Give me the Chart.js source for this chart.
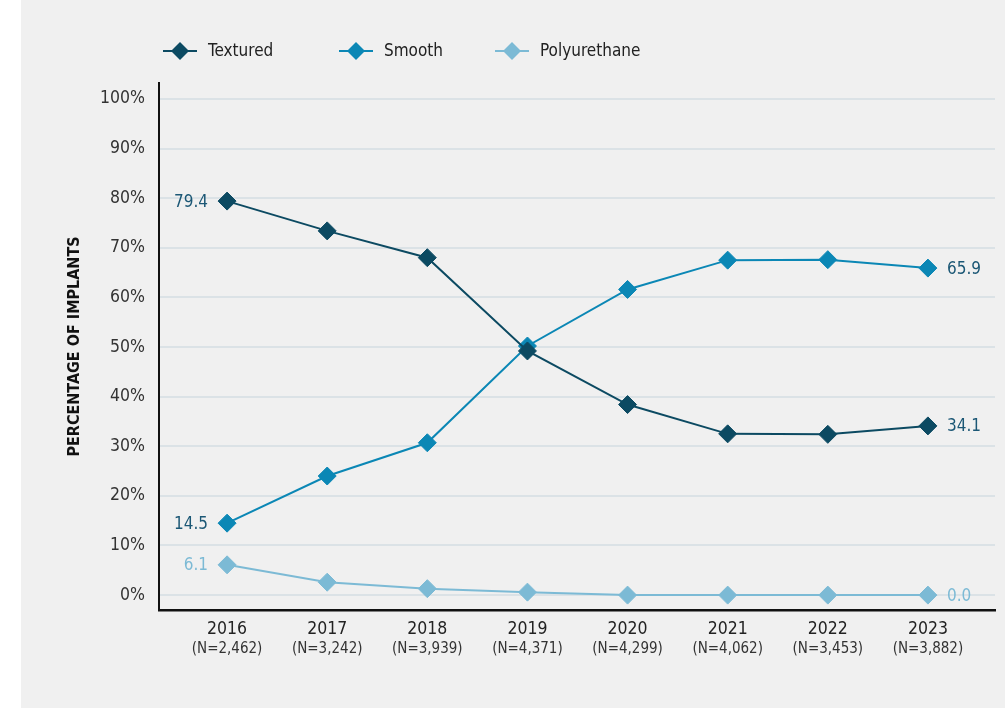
<!DOCTYPE html>
<html>
<head>
<meta charset="utf-8">
<script src="https://cdn.jsdelivr.net/npm/chart.js@4"></script>
<style>
  html, body { margin: 0; padding: 0; background: #ffffff; }
  #panel { position: absolute; left: 21px; top: 0; width: 984px; height: 708px; background: #f0f0f0; }
  #wrap { position: absolute; left: 0; top: 0; width: 1005px; height: 708px; }
</style>
</head>
<body>
<div id="panel"></div>
<div id="wrap"><canvas id="implantChart" width="1005" height="708"></canvas></div>
<script>
const years = [2016, 2017, 2018, 2019, 2020, 2021, 2022, 2023];
const sampleSizes = ['2,462', '3,242', '3,939', '4,371', '4,299', '4,062', '3,453', '3,882'];
const textured = [79.4, 73.4, 68.0, 49.2, 38.4, 32.5, 32.4, 34.1];
const smooth = [14.5, 24.0, 30.7, 50.2, 61.6, 67.5, 67.6, 65.9];
const polyurethane = [6.1, 2.6, 1.3, 0.6, 0.0, 0.0, 0.0, 0.0];
const yTicks = [0, 10, 20, 30, 40, 50, 60, 70, 80, 90, 100];

const FONT = '"DejaVu Sans Condensed", "Liberation Sans Narrow", sans-serif';
const C_TEXTURED = '#0c4a62';
const C_SMOOTH = '#0b87b5';
const C_POLY = '#7cbad5';
const C_LABEL_DARK = '#1b5775';

const series = [
  { name: 'Textured', values: textured, color: C_TEXTURED, labelColor: C_LABEL_DARK },
  { name: 'Smooth', values: smooth, color: C_SMOOTH, labelColor: C_LABEL_DARK },
  { name: 'Polyurethane', values: polyurethane, color: C_POLY, labelColor: C_POLY }
];

function diamond(ctx, x, y, r) {
  ctx.beginPath();
  ctx.moveTo(x, y - r);
  ctx.lineTo(x + r, y);
  ctx.lineTo(x, y + r);
  ctx.lineTo(x - r, y);
  ctx.closePath();
  ctx.fill();
}

// legend row: line with diamond, then series name
const legendRow = {
  id: 'legendRow',
  afterDraw(chart) {
    const ctx = chart.ctx;
    const centers = [180, 356, 512];
    ctx.save();
    ctx.font = '17px ' + FONT;
    ctx.textBaseline = 'middle';
    ctx.textAlign = 'left';
    chart.data.datasets.forEach((ds, i) => {
      const cx = centers[i], cy = 51;
      ctx.strokeStyle = ds.borderColor;
      ctx.lineWidth = 2;
      ctx.beginPath();
      ctx.moveTo(cx - 17, cy);
      ctx.lineTo(cx + 17, cy);
      ctx.stroke();
      ctx.fillStyle = ds.borderColor;
      diamond(ctx, cx, cy, 9);
      ctx.fillStyle = '#222222';
      ctx.fillText(ds.label, cx + 28, cy + 1);
    });
    ctx.restore();
  }
};

// first and last values of each series
const endLabels = {
  id: 'endLabels',
  afterDatasetsDraw(chart) {
    const ctx = chart.ctx;
    ctx.save();
    ctx.font = '17px ' + FONT;
    ctx.textBaseline = 'middle';
    chart.data.datasets.forEach((ds, i) => {
      const meta = chart.getDatasetMeta(i);
      const first = meta.data[0];
      const last = meta.data[meta.data.length - 1];
      const vals = series[i].values;
      ctx.fillStyle = series[i].labelColor;
      ctx.textAlign = 'right';
      ctx.fillText(vals[0].toFixed(1), first.x - 19, first.y + 1);
      ctx.textAlign = 'left';
      ctx.fillText(vals[vals.length - 1].toFixed(1), last.x + 19, last.y + 1);
    });
    ctx.restore();
  }
};

// sample size under each year
const sampleRow = {
  id: 'sampleRow',
  afterDraw(chart) {
    const ctx = chart.ctx;
    const xs = chart.scales.x;
    ctx.save();
    ctx.font = '15px ' + FONT;
    ctx.fillStyle = '#333333';
    ctx.textAlign = 'center';
    ctx.textBaseline = 'middle';
    years.forEach((yr, i) => {
      ctx.fillText('(N=' + sampleSizes[i] + ')', xs.getPixelForValue(yr), 649);
    });
    ctx.restore();
  }
};

new Chart(document.getElementById('implantChart'), {
  type: 'line',
  data: {
    datasets: series.map(s => ({
      label: s.name,
      data: years.map((yr, i) => ({ x: yr, y: s.values[i] })),
      borderColor: s.color,
      backgroundColor: s.color,
      borderWidth: 2,
      pointStyle: 'rectRot',
      pointRadius: 9,
      pointHoverRadius: 9,
      pointBorderWidth: 1,
      pointBackgroundColor: s.color,
      pointBorderColor: s.color,
      tension: 0
    }))
  },
  options: {
    responsive: false,
    animation: false,
    devicePixelRatio: 1,
    layout: { padding: { left: 0, right: 8, top: 83, bottom: 0 } },
    plugins: { legend: { display: false }, tooltip: { enabled: false } },
    scales: {
      x: {
        type: 'linear',
        min: 2015.32,
        max: 2023.67,
        afterBuildTicks: scale => { scale.ticks = years.map(v => ({ value: v })); },
        afterFit: scale => { scale.height = 98; },
        grid: { display: false, drawTicks: false },
        border: { display: true, color: '#111111', width: 2.5 },
        ticks: {
          padding: 9,
          color: '#222222',
          font: { family: FONT, size: 17.5 },
          callback: v => String(v)
        }
      },
      y: {
        min: -3,
        max: 103.2,
        afterBuildTicks: scale => { scale.ticks = yTicks.map(v => ({ value: v })); },
        afterFit: scale => { scale.width = 159; },
        grid: { color: '#dbe2e6', lineWidth: 2, drawTicks: false },
        border: { display: true, color: '#111111', width: 2 },
        ticks: {
          padding: 14,
          color: '#333333',
          font: { family: FONT, size: 17.5 },
          callback: v => v + '%'
        },
        title: {
          display: true,
          text: 'PERCENTAGE OF IMPLANTS',
          color: '#111111',
          font: { family: FONT, size: 16, weight: 'bold' },
          padding: { top: 65, bottom: 0 }
        }
      }
    }
  },
  plugins: [legendRow, endLabels, sampleRow]
});
</script>
</body>
</html>
